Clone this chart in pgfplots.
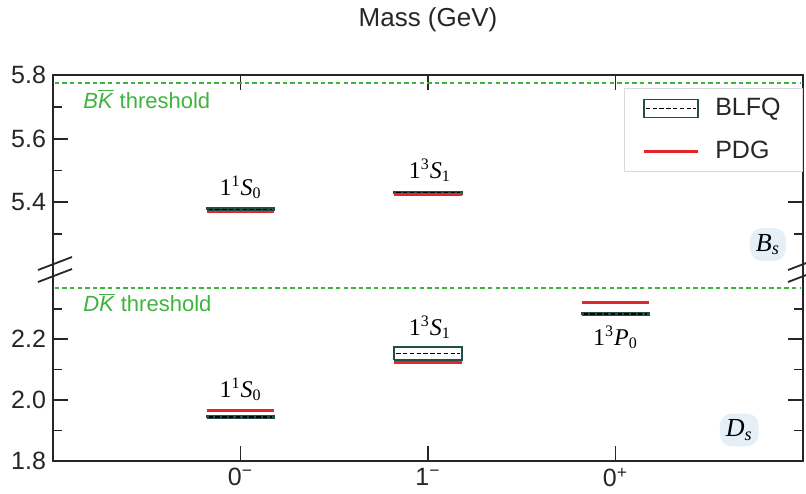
\documentclass[border=0pt]{standalone}
\usepackage{pgfplots}
\pgfplotsset{compat=1.18}
\usepackage{fontspec}
\setmainfont{Liberation Sans}
\newfontfamily\serif{Liberation Serif}

\definecolor{pdgred}{RGB}{226,38,42}
\definecolor{blfqline}{RGB}{35,78,74}
\definecolor{thrgreen}{RGB}{62,180,62}
\definecolor{halo}{RGB}{228,239,248}
\definecolor{axisgray}{RGB}{38,38,38}

% spectroscopic label n^{2S+1}L_J
\newcommand\lvl[3]{{\serif 1\textsuperscript{#1}\textit{#2}\textsubscript{#3}}}
\newcommand\ticklbl{\fontsize{12.5}{14}\selectfont}

\tikzset{spine/.style={axisgray, line width=1.1pt, line join=miter}}

\pgfplotsset{
  levels/.style={
    scale only axis, width=375pt,
    xmin=-1, xmax=3,
    axis line style={draw=none},
    tick align=inside,
    major tick length=7.5pt, minor tick length=4.5pt,
    every tick/.style={axisgray, line width=0.9pt},
    ytick pos=both, yticklabel pos=left,
    tick label style={font=\ticklbl, text=axisgray},
    xtick={0,1,2},
    clip=false,
  },
  blfqbox/.style={blfqline, line width=0.9pt, unbounded coords=jump},
  blfqmid/.style={black, line width=0.7pt, dash pattern=on 2.2pt off 1.2pt, unbounded coords=jump, forget plot},
  pdg/.style={pdgred, line width=1.4pt, unbounded coords=jump},
  thr/.style={draw=thrgreen, line width=0.8pt, dash pattern=on 2.2pt off 1.6pt, forget plot},
}

\begin{document}
\begin{tikzpicture}
\useasboundingbox (-26.5pt,-16pt) rectangle (376.5pt,230.5pt);

% ---------------- D_s panel ----------------
\begin{axis}[levels, name=bot, at={(0pt,0pt)}, anchor=south west,
  height=96pt, ymin=1.8, ymax=2.43,
  ytick={1.8,2.0,2.2}, yticklabels={1.8,2.0,2.2},
  minor ytick={1.9,2.1,2.3},
  xtick pos=left, xticklabel pos=left,
  xticklabels={0\textsuperscript{−},1\textsuperscript{−},0\textsuperscript{+}},
]
\addplot[thr] coordinates {(-0.99,2.368)(2.99,2.368)};
% BLFQ uncertainty boxes
\addplot[blfqbox, forget plot] coordinates {
  (-0.18,1.941)(0.18,1.941)(0.18,1.947)(-0.18,1.947)(-0.18,1.941)
  (0,nan)
  (0.82,2.131)(1.18,2.131)(1.18,2.174)(0.82,2.174)(0.82,2.131)
  (0,nan)
  (1.82,2.279)(2.18,2.279)(2.18,2.285)(1.82,2.285)(1.82,2.279)
};
% BLFQ central values
\addplot[blfqmid] coordinates {
  (-0.17,1.944)(0.17,1.944) (0,nan)
  (0.83,2.153)(1.17,2.153) (0,nan)
  (1.83,2.282)(2.17,2.282)
};
% PDG masses
\addplot[pdg, forget plot] coordinates {
  (-0.18,1.967)(0.18,1.967) (0,nan)
  (0.82,2.124)(1.18,2.124) (0,nan)
  (1.82,2.320)(2.18,2.320)
};
\node[anchor=base west, inner sep=0pt, text=thrgreen, font=\fontsize{11}{13}\selectfont]
  at (axis cs:-0.84,2.289) {\textit{D}$\overline{\mbox{\textit{K}}}$ threshold};
\node[anchor=base, font=\fontsize{12}{14}\selectfont] at (axis cs:0,2.010) {\lvl{1}{S}{0}};
\node[anchor=base, font=\fontsize{12}{14}\selectfont] at (axis cs:1.01,2.213) {\lvl{3}{S}{1}};
\node[anchor=base, font=\fontsize{12}{14}\selectfont] at (axis cs:2.0,2.180) {\lvl{3}{P}{0}};
\node[fill=halo, rounded corners=6pt, inner sep=3pt, font=\serif\fontsize{13}{15}\selectfont]
  at (axis cs:2.66,1.902) {\textit{D}\textsubscript{\textit{s}}};
\draw[spine] (rel axis cs:0,1) -- (rel axis cs:0,0) -- (rel axis cs:1,0) -- (rel axis cs:1,1);
\end{axis}

% ---------------- B_s panel ----------------
\begin{axis}[levels, name=top, at={(0pt,96pt)}, anchor=south west,
  height=97pt, ymin=5.19, ymax=5.8,
  ytick={5.4,5.6,5.8}, yticklabels={5.4,5.6,5.8},
  minor ytick={5.3,5.5,5.7},
  xtick pos=right, xticklabels={},
  legend style={at={(1,0.933)}, anchor=north east, draw=black!15, fill=white,
    font=\fontsize{12.5}{14}\selectfont, text=axisgray,
    inner xsep=9pt, inner ysep=3pt, row sep=7pt,
    /tikz/every odd column/.append style={column sep=6pt}},
  legend cell align=left,
]
\addplot[thr] coordinates {(-0.99,5.775)(2.99,5.775)};
\addplot[blfqbox,
  legend image code/.code={
    \draw[blfqline, line width=0.8pt] (0pt,-4.5pt) rectangle (27pt,4.5pt);
    \draw[black, line width=0.6pt, dash pattern=on 2.2pt off 1.2pt] (1pt,0pt) -- (26pt,0pt);
  }] coordinates {
  (-0.18,5.375)(0.18,5.375)(0.18,5.381)(-0.18,5.381)(-0.18,5.375)
  (0,nan)
  (0.82,5.427)(1.18,5.427)(1.18,5.433)(0.82,5.433)(0.82,5.427)
};
\addlegendentry{BLFQ}
\addplot[blfqmid] coordinates {
  (-0.17,5.378)(0.17,5.378) (0,nan)
  (0.83,5.430)(1.17,5.430)
};
\addplot[pdg,
  legend image code/.code={\draw[pdgred, line width=1.5pt] (0pt,0pt) -- (27pt,0pt);}
  ] coordinates {
  (-0.18,5.369)(0.18,5.369) (0,nan)
  (0.82,5.424)(1.18,5.424)
};
\addlegendentry{PDG}
\node[anchor=base west, inner sep=0pt, text=thrgreen, font=\fontsize{11}{13}\selectfont]
  at (axis cs:-0.84,5.696) {\textit{B}$\overline{\mbox{\textit{K}}}$ threshold};
\node[anchor=base, font=\fontsize{12}{14}\selectfont] at (axis cs:0,5.422) {\lvl{1}{S}{0}};
\node[anchor=base, font=\fontsize{12}{14}\selectfont] at (axis cs:1.01,5.476) {\lvl{3}{S}{1}};
\node[fill=halo, rounded corners=6pt, inner sep=3pt, font=\serif\fontsize{13}{15}\selectfont]
  at (axis cs:2.813,5.267) {\textit{B}\textsubscript{\textit{s}}};
\draw[spine] (rel axis cs:0,0) -- (rel axis cs:0,1) -- (rel axis cs:1,1) -- (rel axis cs:1,0);
\end{axis}

% axis break marks
\foreach \bx in {0pt,375pt}{
  \draw[axisgray, line width=0.9pt] ([xshift=\bx]-7.5pt,95.5pt) -- ([xshift=\bx]9.5pt,102pt);
  \draw[axisgray, line width=0.9pt] ([xshift=\bx]-7.5pt,89.5pt) -- ([xshift=\bx]9.5pt,96pt);
}

\node[anchor=base, text=axisgray, font=\fontsize{13}{15}\selectfont] at (187.5pt,217pt) {Mass (GeV)};
\end{tikzpicture}
\end{document}
